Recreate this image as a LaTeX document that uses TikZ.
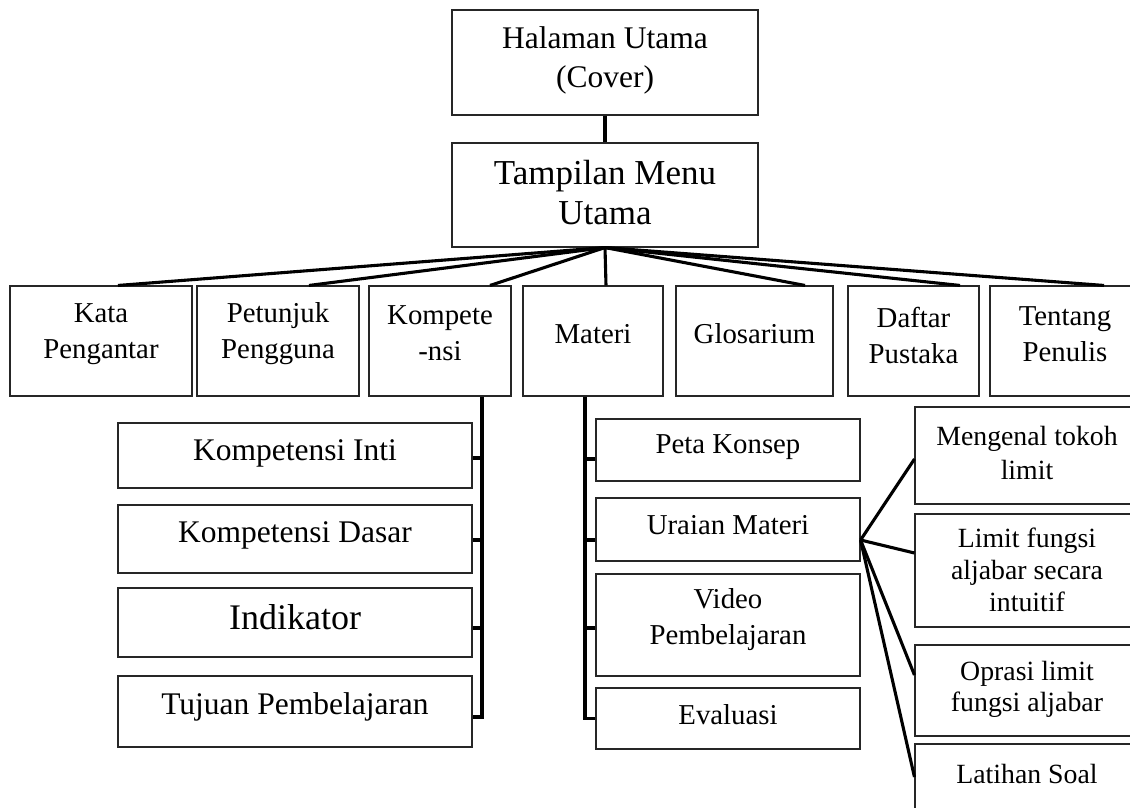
\documentclass[tikz,border=0pt]{standalone}
\usepackage{fontspec}
\setmainfont{Liberation Serif}
\usetikzlibrary{positioning,calc}

\begin{document}
\begin{tikzpicture}[
  x=1pt, y=-1pt,
  box/.style={draw=black!85, line width=1.1pt, inner sep=0pt},
  txt/.style={align=center, inner sep=0pt, font=\fontsize{28.8}{36}\selectfont},
  link/.style={line width=3.1pt},
]
\useasboundingbox (0,0) rectangle (1130,807);
\clip (0,0) rectangle (1130,807);
% cover and main menu
\node[box, minimum width=306pt, minimum height=105pt] (cover) at (605,62.5) {};
\node[txt, font=\fontsize{31.5}{39}\selectfont] (coverT) at ([yshift=2pt]cover.center) {Halaman Utama\\(Cover)};
\node[box, minimum width=306pt, minimum height=104pt] (menu) at (605,195) {};
\node[txt, font=\fontsize{35}{40}\selectfont] (menuT) at ([yshift=2pt]menu.center) {Tampilan Menu\\Utama};
\draw[link] (cover) -- (menu);
% menu row
\node[box, minimum width=182pt, minimum height=110pt] (kata) at (101,341) {};
\node[txt] (kataT) at ([yshift=7pt]kata.center) {Kata\\Pengantar};
\node[box, minimum width=162pt, minimum height=110pt] (petunjuk) at (278,341) {};
\node[txt] (petunjukT) at ([yshift=7pt]petunjuk.center) {Petunjuk\\Pengguna};
\node[box, minimum width=142pt, minimum height=110pt] (komp) at (440,341) {};
\node[txt] (kompT) at ([yshift=8pt]komp.center) {Kompete\\-nsi};
\node[box, minimum width=140pt, minimum height=110pt] (materi) at (593,341) {};
\node[txt] (materiT) at ([yshift=7pt]materi.center) {Materi};
\node[box, minimum width=157pt, minimum height=110pt] (glos) at (754.5,341) {};
\node[txt] (glosT) at ([yshift=7pt]glos.center) {Glosarium};
\node[box, minimum width=131pt, minimum height=110pt] (daftar) at (913.5,341) {};
\node[txt] (daftarT) at ([yshift=6pt]daftar.center) {Daftar\\Pustaka};
\node[box, minimum width=150pt, minimum height=110pt] (tentang) at (1065,341) {};
\node[txt] (tentangT) at ([yshift=7pt]tentang.center) {Tentang\\Penulis};
\foreach \n/\dx in {kata/17,petunjuk/31,komp/50,materi/13,glos/50.5,daftar/46.5,tentang/39}
  \draw[link] (menu.south) -- ([xshift=\dx pt]\n.north);
% kompetensi branch
\node[box, minimum width=354pt, minimum height=65pt] (ki) at (295,455.5) {};
\node[txt, font=\fontsize{31.5}{36}\selectfont] (kiT) at ([yshift=2pt]ki.center) {Kompetensi Inti};
\node[box, minimum width=354pt, minimum height=68pt] (kd) at (295,539) {};
\node[txt, font=\fontsize{31.5}{36}\selectfont] (kdT) at ([yshift=4pt]kd.center) {Kompetensi Dasar};
\node[box, minimum width=354pt, minimum height=69pt] (ind) at (295,622.5) {};
\node[txt, font=\fontsize{36}{40}\selectfont] (indT) at ([yshift=5pt]ind.center) {Indikator};
\node[box, minimum width=354pt, minimum height=71pt] (tp) at (295,711.5) {};
\node[txt, font=\fontsize{31.5}{36}\selectfont] (tpT) at ([yshift=5pt]tp.center) {Tujuan Pembelajaran};
\coordinate (kspine) at ([xshift=42pt]komp.south);
\draw[link] (kspine) |- ([yshift=-5.5pt]tp.east);
\foreach \n/\dy in {ki/-2.5,kd/-1,ind/-5.5}
  \draw[link] ([yshift=\dy pt]\n.east) -| (kspine);
% materi branch
\node[box, minimum width=264pt, minimum height=62pt] (peta) at (728,450) {};
\node[txt] (petaT) at ([yshift=3pt]peta.center) {Peta Konsep};
\node[box, minimum width=264pt, minimum height=63pt] (uraian) at (728,529.5) {};
\node[txt] (uraianT) at ([yshift=4pt]uraian.center) {Uraian Materi};
\node[box, minimum width=264pt, minimum height=102pt] (video) at (728,625) {};
\node[txt] (videoT) at ([yshift=5pt]video.center) {Video\\Pembelajaran};
\node[box, minimum width=264pt, minimum height=61pt] (eval) at (728,718.5) {};
\node[txt] (evalT) at ([yshift=4pt]eval.center) {Evaluasi};
\coordinate (mspine) at ([xshift=-8pt]materi.south);
\draw[link] (mspine) |- (eval.west);
\foreach \n/\dy in {peta/-9,uraian/-10.5,video/-3}
  \draw[link] ([yshift=\dy pt]\n.west) -| (mspine);
% uraian materi branch
\node[box, minimum width=224pt, minimum height=97pt] (tokoh) at (1027,455.5) {};
\node[txt, font=\fontsize{27.8}{34}\selectfont] (tokohT) at ([yshift=3pt]tokoh.center) {Mengenal tokoh\\limit};
\node[box, minimum width=224pt, minimum height=113pt] (intuitif) at (1027,570.5) {};
\node[txt, font=\fontsize{27.8}{32}\selectfont] (intuitifT) at ([yshift=1pt]intuitif.center) {Limit fungsi\\aljabar secara\\intuitif};
\node[box, minimum width=224pt, minimum height=91pt] (oprasi) at (1027,690.5) {};
\node[txt, font=\fontsize{27.8}{31}\selectfont] (oprasiT) at ([yshift=1pt]oprasi.center) {Oprasi limit\\fungsi aljabar};
\node[box, minimum width=224pt, minimum height=68pt] (latihan) at (1027,778) {};
\node[txt, font=\fontsize{27.8}{34}\selectfont] (latihanT) at ([yshift=4pt]latihan.center) {Latihan Soal};
\coordinate (fan) at ([yshift=-10.5pt]uraian.east);
\foreach \n/\dy in {tokoh/-3.5,intuitif/17.5,oprasi/15.5,latihan/1}
  \draw[link] (fan) -- ([yshift=\dy pt]\n.west);
\end{tikzpicture}
\end{document}
